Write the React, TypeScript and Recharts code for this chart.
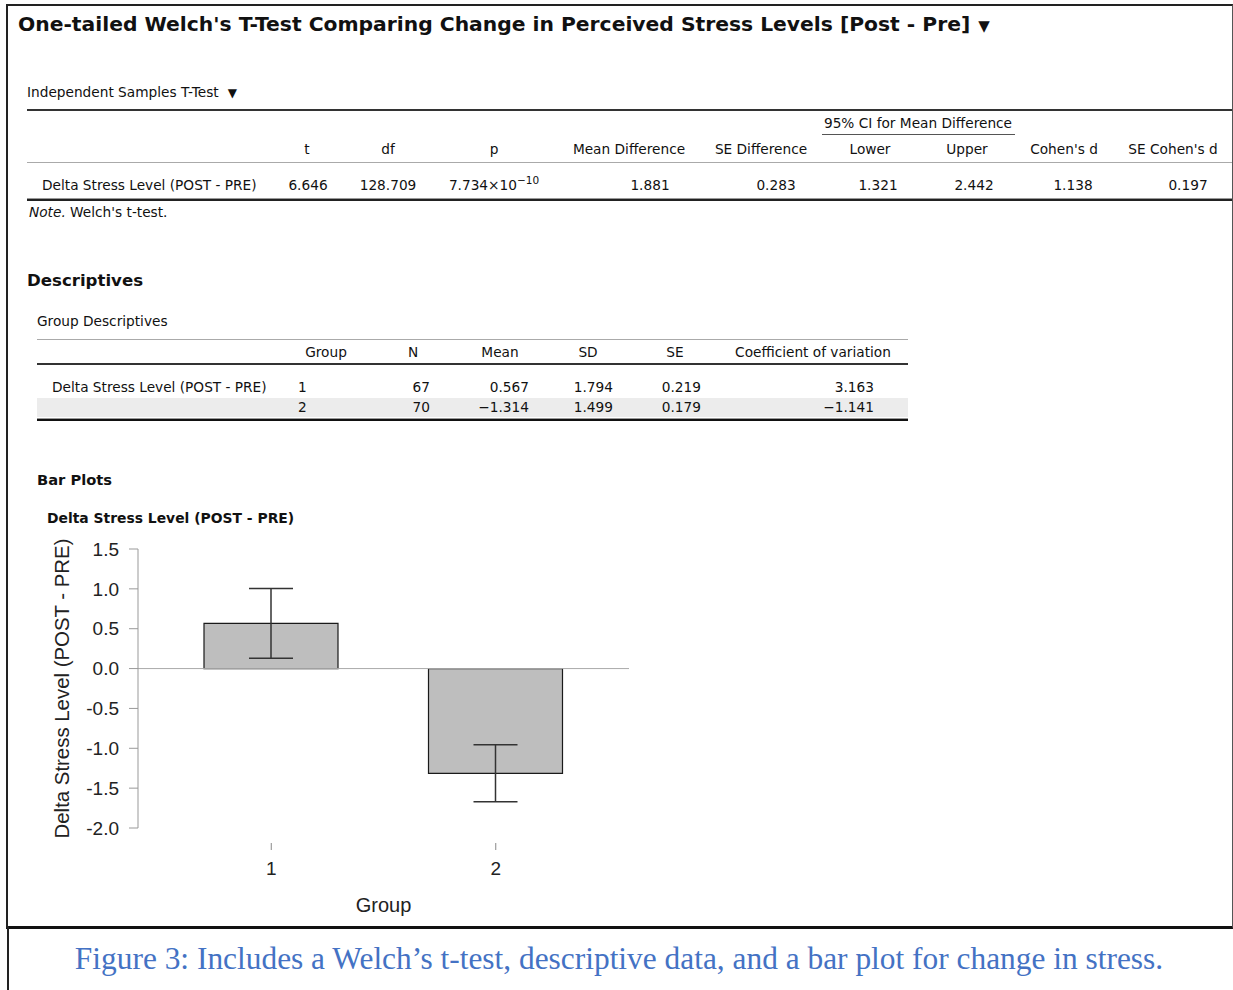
import React from 'react';
import { BarChart, Bar, XAxis, YAxis, ErrorBar, ReferenceLine } from 'recharts';

// bar plot values (group means with 95% CI bounds)
const groups = ['1', '2'];
const groupMeans = [0.567, -1.314];
const ciLower = [0.13, -1.671];
const ciUpper = [1.004, -0.957];
const yTicks = [-2, -1.5, -1, -0.5, 0, 0.5, 1, 1.5];

// t-test table
const ttestHeaders = ['t', 'df', 'p', 'Mean Difference', 'SE Difference', 'Lower', 'Upper', "Cohen's d", "SE Cohen's d"];
const ttestValues = ['6.646', '128.709', '7.734×10', '1.881', '0.283', '1.321', '2.442', '1.138', '0.197'];
const pExponent = '−10';

// descriptives table
const descHeaders = ['Group', 'N', 'Mean', 'SD', 'SE', 'Coefficient of variation'];
const descN = ['67', '70'];
const descMean = ['0.567', '−1.314'];
const descSD = ['1.794', '1.499'];
const descSE = ['0.219', '0.179'];
const descCV = ['3.163', '−1.141'];

const variableName = 'Delta Stress Level (POST - PRE)';

const chartData = groups.map((g, i) => ({
  group: g,
  mean: groupMeans[i],
  ci: [groupMeans[i] - ciLower[i], ciUpper[i] - groupMeans[i]],
}));

const uiFont = '"DejaVu Sans", "Lucida Grande", sans-serif';
const plotFont = '"Liberation Sans", Arial, sans-serif';

// column positions
const ttHeadX = [307, 388, 494, 629, 761, 870, 967, 1064, 1173];
const ttValX = [308, 388, 494, 650, 776, 878, 974, 1073, 1188];
const descHeadX = [326, 413, 500, 588, 675, 813];
const descRight = [430, 529, 613, 701, 874];

type TxtProps = {
  x: number;
  y: number;
  anchor?: 'start' | 'middle' | 'end';
  size?: number;
  bold?: boolean;
  children: React.ReactNode;
  style?: React.CSSProperties;
};

function Txt({ x, y, anchor = 'start', size = 13.7, bold, children, style }: TxtProps) {
  const tx = anchor === 'start' ? '0' : anchor === 'middle' ? '-50%' : '-100%';
  return (
    <div
      style={{
        position: 'absolute',
        left: x,
        top: y,
        transform: `translate(${tx}, -50%)`,
        fontFamily: uiFont,
        fontSize: size,
        fontWeight: bold ? 'bold' : 'normal',
        color: '#111',
        whiteSpace: 'nowrap',
        lineHeight: 1.2,
        ...style,
      }}
    >
      {children}
    </div>
  );
}

function HLine({ x1, x2, y, h = 1, color = '#333' }: { x1: number; x2: number; y: number; h?: number; color?: string }) {
  return <div style={{ position: 'absolute', left: x1, top: y, width: x2 - x1, height: h, background: color }} />;
}

function GroupTick({ x, y, payload }: any) {
  return (
    <g>
      <line x1={x} x2={x} y1={y + 15} y2={y + 22} stroke="#888" />
      <text x={x} y={y + 47} textAnchor="middle" fill="#222" fontSize={19} fontFamily={plotFont}>
        {payload.value}
      </text>
    </g>
  );
}

function YTitle({ viewBox }: any) {
  const cx = viewBox.x + 22;
  const cy = viewBox.y + viewBox.height / 2;
  return (
    <text
      x={cx}
      y={cy}
      transform={`rotate(-90 ${cx} ${cy})`}
      textAnchor="middle"
      dominantBaseline="central"
      fill="#222"
      fontSize={20.4}
      fontFamily={plotFont}
    >
      {variableName}
    </text>
  );
}

export default function App() {
  return (
    <div style={{ position: 'absolute', left: 0, top: 0, width: 1233, height: 990, background: '#fff', overflow: 'hidden' }}>
      {/* frame */}
      <div
        style={{
          position: 'absolute',
          left: 6,
          top: 4,
          width: 1224,
          height: 920,
          borderLeft: '2px solid #222',
          borderTop: '2px solid #222',
          borderRight: '1px solid #555',
          borderBottom: '3px solid #111',
        }}
      />
      <div style={{ position: 'absolute', left: 7, top: 926, width: 2, height: 64, background: '#222' }} />

      <Txt x={18} y={24} size={20.3} bold>
        One-tailed Welch's T-Test Comparing Change in Perceived Stress Levels [Post - Pre]
        <span style={{ marginLeft: 8, fontSize: 15 }}>▼</span>
      </Txt>

      {/* t-test table */}
      <Txt x={27} y={92}>
        Independent Samples T-Test<span style={{ marginLeft: 9, fontSize: 12 }}>▼</span>
      </Txt>
      <HLine x1={27} x2={1232} y={109} h={2} color="#333" />
      <Txt x={918} y={123} anchor="middle">95% CI for Mean Difference</Txt>
      <HLine x1={822} x2={1015} y={134} h={1} color="#555" />
      {ttestHeaders.map((h, i) => (
        <Txt key={h} x={ttHeadX[i]} y={149} anchor="middle">{h}</Txt>
      ))}
      <HLine x1={27} x2={1232} y={162} h={1} color="#aaa" />
      <Txt x={42} y={185}>{variableName}</Txt>
      {ttestValues.map((v, i) => (
        <Txt key={i} x={ttValX[i]} y={185} anchor="middle">
          {v}
          {i === 2 && <span style={{ fontSize: 10.5, position: 'relative', top: -6 }}>{pExponent}</span>}
        </Txt>
      ))}
      <HLine x1={27} x2={1232} y={198} h={1} color="#999" />
      <HLine x1={27} x2={1232} y={199} h={2} color="#222" />
      <Txt x={29} y={212}>
        <i>Note.</i> Welch's t-test.
      </Txt>

      {/* descriptives */}
      <Txt x={27} y={281} size={16.6} bold>Descriptives</Txt>
      <Txt x={37} y={321}>Group Descriptives</Txt>
      <HLine x1={37} x2={908} y={339} h={1} color="#aaa" />
      {descHeaders.map((h, i) => (
        <Txt key={h} x={descHeadX[i]} y={352} anchor="middle">{h}</Txt>
      ))}
      <HLine x1={37} x2={908} y={363} h={2} color="#333" />
      <div style={{ position: 'absolute', left: 37, top: 398, width: 871, height: 19, background: '#ececec' }} />
      <Txt x={52} y={387}>{variableName}</Txt>
      {groups.map((g, r) => {
        const y = 387 + r * 20;
        const cells = [descN[r], descMean[r], descSD[r], descSE[r], descCV[r]];
        return (
          <React.Fragment key={g}>
            <Txt x={298} y={y}>{g}</Txt>
            {cells.map((c, j) => (
              <Txt key={j} x={descRight[j]} y={y} anchor="end">{c}</Txt>
            ))}
          </React.Fragment>
        );
      })}
      <HLine x1={37} x2={908} y={418} h={1} color="#999" />
      <HLine x1={37} x2={908} y={419} h={2} color="#111" />

      {/* bar plot */}
      <Txt x={37} y={480} size={14.7} bold>Bar Plots</Txt>
      <Txt x={47} y={518} size={13.9} bold>{variableName}</Txt>
      <div style={{ position: 'absolute', left: 40, top: 530 }}>
        <BarChart width={600} height={390} data={chartData} margin={{ top: 19, right: 11, left: 0, bottom: 0 }}>
          <XAxis
            dataKey="group"
            type="category"
            padding={{ left: 21, right: 21 }}
            axisLine={false}
            tickLine={false}
            tickSize={0}
            tickMargin={0}
            height={92}
            tick={<GroupTick />}
            label={{ value: 'Group', position: 'insideBottom', offset: 8, fill: '#222', fontSize: 20, fontFamily: plotFont }}
          />
          <YAxis
            type="number"
            domain={[-2, 1.5]}
            ticks={yTicks}
            interval={0}
            tickFormatter={(v: number) => v.toFixed(1)}
            width={98}
            axisLine={{ stroke: '#999' }}
            tickLine={{ stroke: '#999' }}
            tickSize={9}
            tickMargin={10}
            tick={{ fill: '#222', fontSize: 19, fontFamily: plotFont }}
            label={{ content: YTitle }}
          />
          <ReferenceLine y={0} stroke="#aaa" strokeWidth={1} />
          <Bar dataKey="mean" fill="#bebebe" stroke="#1a1a1a" strokeWidth={1.2} barSize={134} isAnimationActive={false}>
            <ErrorBar dataKey="ci" width={22} stroke="#333" strokeWidth={1.5} direction="y" isAnimationActive={false} />
          </Bar>
        </BarChart>
      </div>

      <div
        style={{
          position: 'absolute',
          left: 619,
          top: 959,
          transform: 'translate(-50%, -50%)',
          fontFamily: '"Liberation Serif", "Times New Roman", serif',
          fontSize: 31.4,
          color: '#4472c4',
          whiteSpace: 'nowrap',
        }}
      >
        Figure 3: Includes a Welch’s t-test, descriptive data, and a bar plot for change in stress.
      </div>
    </div>
  );
}
